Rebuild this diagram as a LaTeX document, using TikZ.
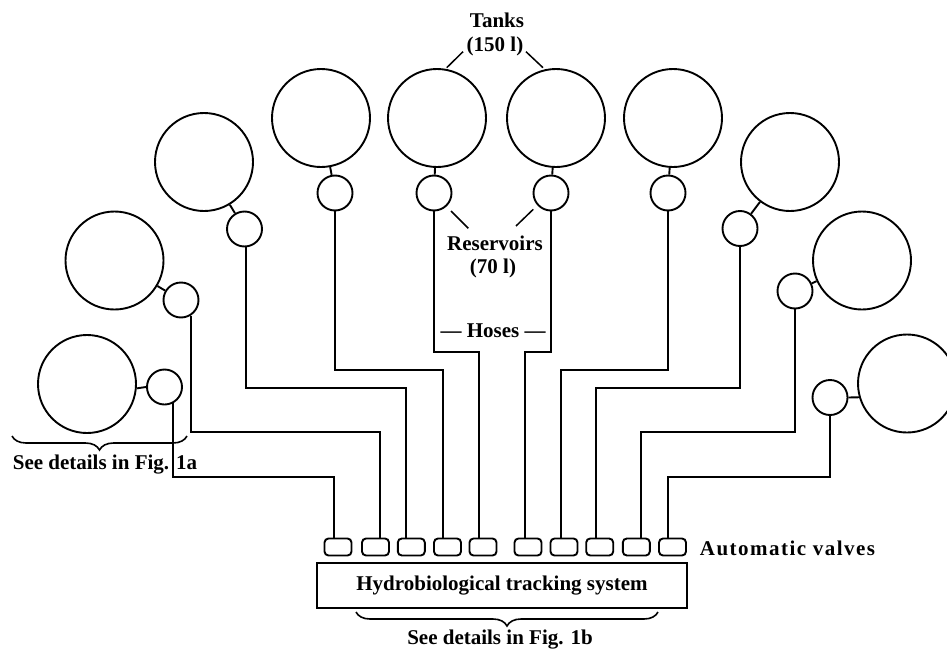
\documentclass[tikz,border=0pt]{standalone}
\usepackage{fontspec}
\setmainfont{Liberation Serif}
\usetikzlibrary{decorations.pathreplacing,calc}
\begin{document}
\begin{tikzpicture}[x=1pt,y=-1pt,line width=1.9pt,
  tank/.style={circle,draw,minimum size=98pt,inner sep=0pt},
  res/.style={circle,draw,minimum size=35pt,inner sep=0pt},
  valve/.style={draw,rounded corners=4pt,minimum width=27pt,minimum height=17pt,inner sep=0pt},
  lbl/.style={font=\fontsize{21}{23}\selectfont\bfseries,inner sep=0pt},
  leader/.style={line width=1.5pt},
  bracestyle/.style={line width=1.6pt,decorate,decoration={brace,mirror,amplitude=14pt}}]
\useasboundingbox (0,0) rectangle (947,653);
% tanks
\node[tank] (t1) at (87,384) {};
\node[tank] (t2) at (114.5,260.5) {};
\node[tank] (t3) at (204,162) {};
\node[tank] (t4) at (321,118) {};
\node[tank] (t5) at (437,118) {};
\node[tank] (t6) at (556,118) {};
\node[tank] (t7) at (673,118) {};
\node[tank] (t8) at (790,162) {};
\node[tank] (t9) at (862,260.5) {};
\node[tank] (t10) at (907,383.5) {};
% reservoirs
\node[res] (r1) at (164.5,387) {};
\node[res] (r2) at (181,300) {};
\node[res] (r3) at (244.5,229) {};
\node[res] (r4) at (335,193) {};
\node[res] (r5) at (434,193) {};
\node[res] (r6) at (551,193) {};
\node[res] (r7) at (668,193) {};
\node[res] (r8) at (740,228.5) {};
\node[res] (r9) at (795,291) {};
\node[res] (r10) at (830,397.5) {};
% tank-reservoir links
\draw (t1.-5) -- (r1.west);
\draw (t2) -- (r2);
\draw (t3) -- (r3);
\draw (t4) -- (r4);
\draw (t5) -- (r5);
\draw (t6) -- (r6);
\draw (t7) -- (r7);
\draw (t8) -- (r8);
\draw (t9) -- (r9);
\draw (r10.east) -- (t10.196);
% valves
\foreach \i/\x in {1/338,2/375.5,3/411.3,4/447.5,5/483,6/528,7/564,8/599.7,9/636.3,10/672.5}
  \node[valve] (v\i) at (\x,547) {};
% system
\node[draw,lbl,minimum width=370pt,minimum height=45pt] (sys) at (502,585.5) {Hydrobiological tracking system};
% hose bends
\coordinate (k1) at (334,477);
\coordinate (k2) at (380,432);
\coordinate (k3) at (406,388);
\coordinate (k4) at (443,370);
\coordinate (k5) at (479,352);
\coordinate (k6) at (525,352);
\coordinate (k7) at (561,370);
\coordinate (k8) at (596,388);
\coordinate (k9) at (641,432);
\coordinate (k10) at (668,477);
\draw (r1.-63) |- (k1) -- (k1 |- v1.north);
\draw (r2.-58) |- (k2) -- (k2 |- v2.north);
\draw (r3.-85) |- (k3) -- (k3 |- v3.north);
\draw (r4.south) |- (k4) -- (k4 |- v4.north);
\draw (r5.south) |- (k5) -- (k5 |- v5.north);
\draw (r6.south) |- (k6) -- (k6 |- v6.north);
\draw (r7.south) |- (k7) -- (k7 |- v7.north);
\draw (r8.south) |- (k8) -- (k8 |- v8.north);
\draw (r9.south) |- (k9) -- (k9 |- v9.north);
\draw (r10.south) |- (k10) -- (k10 |- v10.north);
% labels
\node[lbl] (tanks) at (497,20) {Tanks};
\node[lbl] (tvol) at (495,46) {(150 l)};
\node[lbl] (resv) at (495,243) {Reservoirs};
\node[lbl] (rvol) at (493,268) {(70 l)};
\node[lbl] (hoses) at (493,331) {— Hoses —};
\node[lbl,anchor=west] (av) at (699,548) {\addfontfeature{LetterSpace=7}Automatic valves};
\node[lbl] (fig1a) at (105,465) {See details in Fig. 1a};
\node[lbl] (fig1b) at (500,640) {See details in Fig. 1b};
% leaders
\coordinate (la1) at (446.7,67.7); \coordinate (la2) at (463,51.7);
\coordinate (lb1) at (543,67.7); \coordinate (lb2) at (526,51.7);
\coordinate (lc1) at (451,211); \coordinate (lc2) at (468.3,228.3);
\coordinate (ld1) at (533.3,209.3); \coordinate (ld2) at (516,226);
\draw[leader] (la1) -- (la2);
\draw[leader] (lb1) -- (lb2);
\draw[leader] (lc1) -- (lc2);
\draw[leader] (ld1) -- (ld2);
% braces
\coordinate (ba1) at (12,436); \coordinate (ba2) at (187,436);
\coordinate (bb1) at (356,612); \coordinate (bb2) at (658,612);
\draw[bracestyle] (ba1) -- (ba2);
\draw[bracestyle] (bb1) -- (bb2);
\end{tikzpicture}
\end{document}
